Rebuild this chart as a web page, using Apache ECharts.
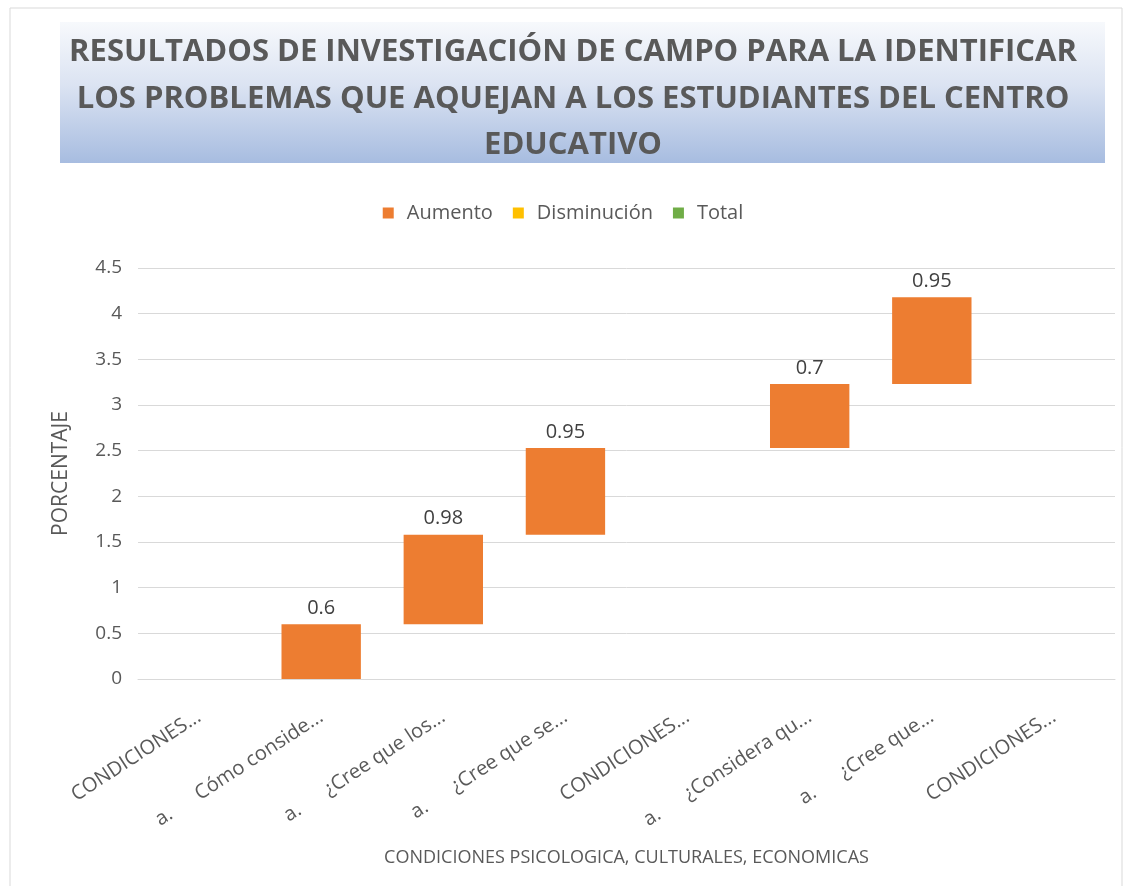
<!DOCTYPE html>
<html>
<head>
<meta charset="utf-8">
<title>Resultados de investigación de campo</title>
<script src="https://cdn.jsdelivr.net/npm/echarts@6/dist/echarts.min.js"></script>
<style>
  html, body { margin: 0; padding: 0; background: #fff; }
  #chart { width: 1126px; height: 886px; }
</style>
</head>
<body>
<div id="chart"></div>
<script>
// categorias del eje x (truncadas igual que en la imagen)
var categorias = [
  'CONDICIONES...',
  'a.      Cómo conside...',
  'a.      ¿Cree que los...',
  'a.      ¿Cree que se...',
  'CONDICIONES...',
  'a.      ¿Considera qu...',
  'a.      ¿Cree que...',
  'CONDICIONES...'
];
// valores de cada paso (null = encabezado sin barra)
var aumento = [null, 0.6, 0.98, 0.95, null, 0.7, 0.95, null];
var yTicks = { min: 0, max: 4.5, interval: 0.5 };

var tituloLineas = [
  'RESULTADOS DE INVESTIGACIÓN DE CAMPO PARA LA IDENTIFICAR',
  'LOS PROBLEMAS QUE AQUEJAN A LOS ESTUDIANTES DEL CENTRO',
  'EDUCATIVO'
];

// base invisible de la cascada = suma acumulada
var base = [];
var acum = 0;
aumento.forEach(function (v) {
  if (v === null) {
    base.push(null);
  } else {
    base.push(acum);
    acum += v;
  }
});

var font = '"Open Sans", "Noto Sans", sans-serif';
var gris = '#595959';

var myChart = echarts.init(document.getElementById('chart'));
myChart.setOption({
  backgroundColor: '#fff',
  animation: false,
  graphic: [{
    type: 'rect',
    shape: { x: 10, y: 8, width: 1112, height: 890 },
    style: { fill: 'none', stroke: '#d9d9d9', lineWidth: 1 },
    z: -10
  }, {
    type: 'rect',
    shape: { x: 60, y: 22, width: 1045, height: 141 },
    style: {
      fill: new echarts.graphic.LinearGradient(0, 0, 0, 1, [
        { offset: 0, color: '#f7f9fc' },
        { offset: 0.45, color: '#dbe3f2' },
        { offset: 1, color: '#a7bce0' }
      ])
    },
    z: -5
  }],
  title: {
    text: tituloLineas.join('\n'),
    left: 568,
    textAlign: 'center',
    top: 24,
    padding: 5,
    textStyle: {
      fontFamily: font,
      fontWeight: 'bold',
      fontSize: 31,
      lineHeight: 46.5,
      color: gris
    }
  },
  legend: {
    top: 198,
    left: 'center',
    itemWidth: 11,
    itemHeight: 11,
    itemGap: 20,
    icon: 'rect',
    textStyle: { fontFamily: font, fontSize: 20, color: gris, padding: [0, 0, 0, 8] },
    data: ['Aumento', 'Disminución', 'Total']
  },
  grid: {
    left: 138,
    right: 11,
    top: 268,
    bottom: 207,
    containLabel: false
  },
  xAxis: {
    type: 'category',
    data: categorias,
    name: 'CONDICIONES PSICOLOGICA, CULTURALES, ECONOMICAS',
    nameLocation: 'middle',
    nameGap: 170,
    nameTextStyle: { fontFamily: font, fontSize: 18, color: gris },
    axisLine: { lineStyle: { color: '#d9d9d9' } },
    axisTick: { show: false },
    axisLabel: {
      rotate: 33,
      interval: 0,
      margin: 36,
      fontFamily: font,
      fontSize: 20,
      color: gris
    }
  },
  yAxis: {
    type: 'value',
    min: yTicks.min,
    max: yTicks.max,
    interval: yTicks.interval,
    name: 'PORCENTAJE',
    nameLocation: 'middle',
    nameGap: 66,
    nameTextStyle: { fontFamily: font, fontSize: 21, color: gris },
    axisLine: { show: false },
    axisTick: { show: false },
    axisLabel: { fontFamily: font, fontSize: 19, color: gris, margin: 16 },
    splitLine: { lineStyle: { color: '#d9d9d9', width: 1 } }
  },
  series: [{
    name: 'base',
    type: 'bar',
    stack: 'cascada',
    data: base,
    itemStyle: { color: 'transparent' },
    emphasis: { disabled: true },
    silent: true
  }, {
    name: 'Aumento',
    type: 'bar',
    stack: 'cascada',
    barWidth: '65%',
    data: aumento,
    itemStyle: { color: '#ED7D31' },
    label: {
      show: true,
      position: 'top',
      distance: 6,
      fontFamily: font,
      fontSize: 20,
      color: '#404040'
    }
  }, {
    name: 'Disminución',
    type: 'bar',
    stack: 'cascada',
    data: [],
    itemStyle: { color: '#FFC000' }
  }, {
    name: 'Total',
    type: 'bar',
    stack: 'cascada',
    data: [],
    itemStyle: { color: '#70AD47' }
  }]
});
</script>
</body>
</html>
